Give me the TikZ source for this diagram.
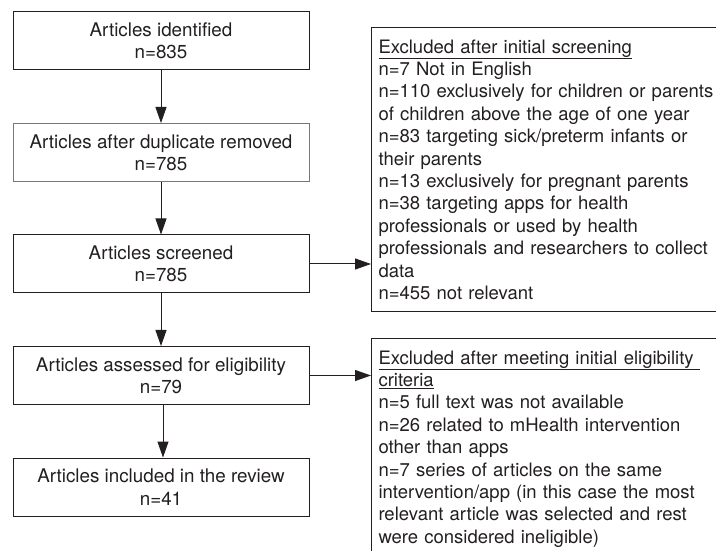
\documentclass[tikz,border=0pt]{standalone}
\usepackage{fontspec}
\setmainfont{TeX Gyre Heros}
\usepackage{xcolor}
\usepackage{tikz}
\usetikzlibrary{arrows.meta,positioning,calc}
\definecolor{inkgray}{HTML}{231F20}
\definecolor{boxblue}{HTML}{4F7FB8}
\tikzset{
	>={Triangle[length=16pt,width=11pt]},
	every node/.append style={font=\fontsize{18.8}{22.4}\selectfont, text=inkgray},
	stepbox/.style = {
			draw            = inkgray,
			line width      = 1pt,
			minimum width   = 296pt,
			minimum height  = 58pt,
			align           = center,
			inner sep       = 0pt,
		},
	exclbox/.style = {
			draw            = inkgray,
			line width      = 1pt,
			anchor          = north west,
			text width      = 360pt,
			align           = left,
			inner xsep      = 7pt,
			inner ysep      = 12pt,
			font            = \fontsize{18.5}{22.4}\selectfont,
		},
	flow/.style = {draw=inkgray, line width=1pt, ->},
}

\begin{document}
\begin{tikzpicture}[x=1pt,y=1pt]
	\useasboundingbox (0,0) rectangle (716,550);
	\clip (0,0) rectangle (716,550);

	% main column
	\node[stepbox] (ident)    at (161,509)   {Articles identified\\n=835};
	\node[stepbox, draw=boxblue] (dedup) at (161,397.5) {Articles after duplicate removed\\n=785};
	\node[stepbox] (screened) at (161,286)   {Articles screened\\n=785};
	\node[stepbox] (elig)     at (161,174.5) {Articles assessed for eligibility\\n=79};
	\node[stepbox] (incl)     at (161,63)    {Articles included in the review\\n=41};

	% exclusion boxes
	\node[exclbox] (excl1) at (371,523) {\underline{Excluded after initial screening}\\
		n=7 Not in English\\
		n=110 exclusively for children or parents\\
		of children above the age of one year\\
		n=83 targeting sick/preterm infants or\\
		their parents\\
		n=13 exclusively for pregnant parents\\
		n=38 targeting apps for health\\
		professionals or used by health\\
		professionals and researchers to collect\\
		data\\
		n=455 not relevant};
	\node[exclbox] (excl2) at (371,212) {\underline{Excluded after meeting initial eligibility\ }\\
		\underline{criteria}\\
		n=5 full text was not available\\
		n=26 related to mHealth intervention\\
		other than apps\\
		n=7 series of articles on the same\\
		intervention/app (in this case the most\\
		relevant article was selected and rest\\
		were considered ineligible)\\
		\phantom{x}};

	\draw[flow] (ident) -- (dedup);
	\draw[flow] (dedup) -- (screened);
	\draw[flow] (screened) -- (elig);
	\draw[flow] ($(elig.south)+(2,0)$) -- ($(incl.north)+(2,0)$);
	\draw[flow] (screened.east) -- (screened.east -| excl1.west);
	\draw[flow] (elig.east) -- (elig.east -| excl2.west);

\end{tikzpicture}
\end{document}
